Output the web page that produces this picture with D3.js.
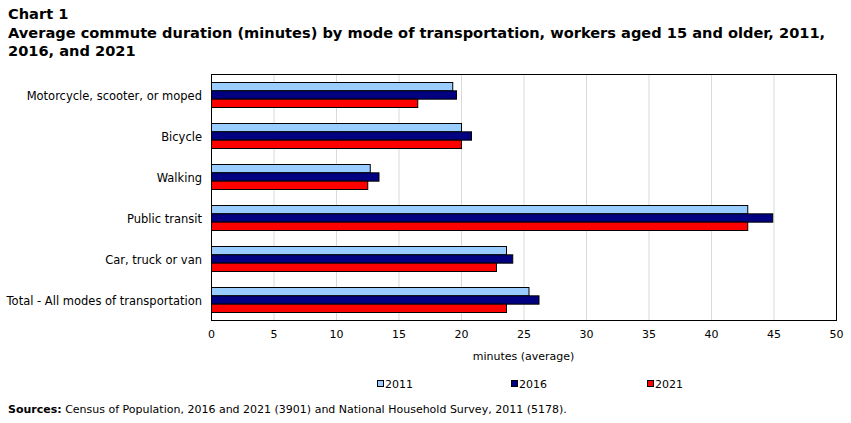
<!DOCTYPE html>
<html><head><meta charset="utf-8">
<script src="https://cdn.jsdelivr.net/npm/d3@7"></script>
<style>body{margin:0;background:#fff}svg{display:block}</style>
</head><body>
<svg id="c" width="851" height="423"></svg>
<script>
const categories = ["Motorcycle, scooter, or moped","Bicycle","Walking","Public transit","Car, truck or van","Total - All modes of transportation"];
const seriesNames = ["2011","2016","2021"];
const values2011 = [19.3, 20.0, 12.7, 42.9, 23.6, 25.4];
const values2016 = [19.6, 20.8, 13.4, 44.9, 24.1, 26.2];
const values2021 = [16.5, 20.0, 12.5, 42.9, 22.8, 23.6];
const xTicks = [0,5,10,15,20,25,30,35,40,45,50];
const colors = ["#99CCFF","#000080","#FF0000"];

const svg = d3.select("#c");
const font = "Verdana, 'DejaVu Sans', sans-serif";
const L=211, R=836, T=74, B=320;
const x = d3.scaleLinear().domain([0,50]).range([L,R]);
const y = d3.scaleBand().domain(categories).range([T,B]);
const sub = d3.scaleBand().domain(seriesNames).range([8, 33]);
const all = [values2011, values2016, values2021];

// title
const t = svg.append("g").attr("font-family", font).attr("font-weight","bold").attr("font-size","14.6px").attr("fill","#000");
t.append("text").attr("x",8).attr("y",19).text("Chart 1");
t.append("text").attr("x",8).attr("y",38).text("Average commute duration (minutes) by mode of transportation, workers aged 15 and older, 2011,");
t.append("text").attr("x",8).attr("y",56).text("2016, and 2021");

// gridlines
svg.append("g").selectAll("line").data(xTicks.slice(1,-1)).join("line")
  .attr("x1",d=>x(d)+0.5).attr("x2",d=>x(d)+0.5).attr("y1",T).attr("y2",B)
  .attr("stroke","#d9d9d9").attr("stroke-width",1);

// bars
seriesNames.forEach((s,i)=>{
  svg.append("g").selectAll("rect").data(categories).join("rect")
    .attr("x",x(0)+0.5)
    .attr("y",(d,j)=>y(d)+sub(s)+0.5)
    .attr("width",(d,j)=>x(all[i][j])-x(0))
    .attr("height",sub.bandwidth())
    .attr("fill",colors[i]).attr("stroke","#000").attr("stroke-width",1);
});

// frame
svg.append("rect").attr("x",L+0.5).attr("y",T+0.5).attr("width",R-L).attr("height",B-T)
  .attr("fill","none").attr("stroke","#000").attr("stroke-width",1);

// x axis labels
const xa = svg.append("g").attr("transform",`translate(0,${B})`)
  .call(d3.axisBottom(x).tickValues(xTicks).tickSize(0).tickPadding(10));
xa.select(".domain").remove();
xa.selectAll("text").attr("font-family",font).attr("font-size","11px").attr("fill","#000");

// y axis labels
const ya = svg.append("g").attr("transform",`translate(${L},0)`)
  .call(d3.axisLeft(y).tickSize(0).tickPadding(9));
ya.select(".domain").remove();
ya.selectAll("text").attr("font-family",font).attr("font-size","11.5px").attr("fill","#000").attr("dy","0.45em");

svg.append("text").attr("x",(L+R)/2).attr("y",360).attr("text-anchor","middle")
  .attr("font-family",font).attr("font-size","11px").text("minutes (average)");

// legend
const legX = [377, 511, 647];
const lg = svg.append("g").selectAll("g").data(seriesNames).join("g")
  .attr("transform",(d,i)=>`translate(${legX[i]},380)`);
lg.append("rect").attr("x",0.5).attr("y",0.5).attr("width",6).attr("height",6)
  .attr("fill",(d,i)=>colors[i]).attr("stroke","#000");
lg.append("text").attr("x",8).attr("y",7.5).attr("font-family",font).attr("font-size","11px").text(d=>d);

// source
const src = svg.append("text").attr("x",8).attr("y",413).attr("font-family",font).attr("font-size","11px");
src.append("tspan").attr("font-weight","bold").text("Sources:");
src.append("tspan").text(" Census of Population, 2016 and 2021 (3901) and National Household Survey, 2011 (5178).");
</script>
</body></html>
